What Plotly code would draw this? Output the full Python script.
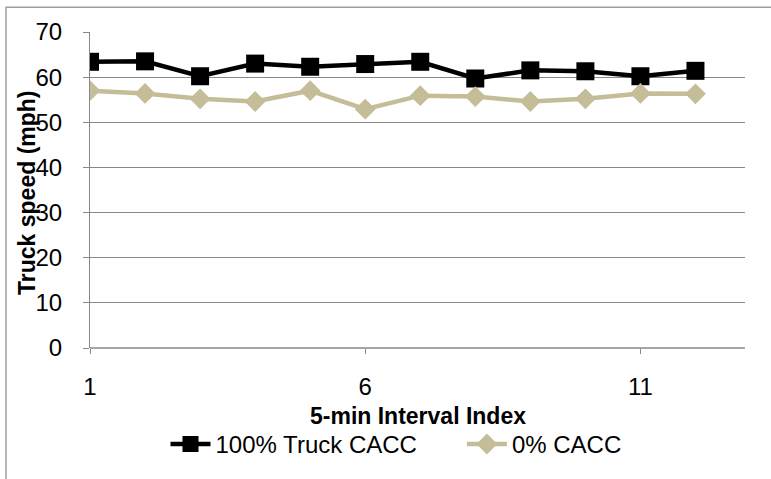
import plotly.graph_objects as go

interval = list(range(1, 13))
truck_cacc = [63.4, 63.5, 60.2, 63.0, 62.3, 62.9, 63.4, 59.7, 61.5, 61.3, 60.2, 61.4]
no_cacc = [57.0, 56.4, 55.2, 54.6, 57.0, 52.9, 55.9, 55.7, 54.6, 55.2, 56.4, 56.3]
x_ticks = [1, 6, 11]
y_ticks = [0, 10, 20, 30, 40, 50, 60, 70]

FONT = "Liberation Sans, Arial, sans-serif"

W, H = 771, 479
L, R, T, B = 90, 26, 32, 129
pw, ph = W - L - R, H - T - B

def px(x):
    return (x - L) / pw

def py(y):
    return (H - B - y) / ph

fig = go.Figure()
fig.add_trace(go.Scatter(
    x=interval, y=truck_cacc, mode="lines+markers", name="100% Truck CACC      ",
    line=dict(color="black", width=4.5),
    marker=dict(symbol="square", size=18, color="black"),
))
fig.add_trace(go.Scatter(
    x=interval, y=no_cacc, mode="lines+markers", name="0% CACC",
    line=dict(color="#C4BD97", width=4.5),
    marker=dict(symbol="diamond", size=16, color="#C4BD97"),
))

fig.update_layout(
    width=W, height=H,
    margin=dict(l=L, r=R, t=T, b=B),
    paper_bgcolor="white", plot_bgcolor="white",
    font=dict(family=FONT, color="black"),
    showlegend=True,
    legend=dict(orientation="h", x=px(396), xanchor="center", y=py(447), yanchor="middle",
                font=dict(size=24, family=FONT), itemwidth=40, tracegroupgap=0,
                bgcolor="rgba(0,0,0,0)"),
    xaxis=dict(range=[1, 12.9], tickvals=x_ticks, ticks="outside", ticklen=5,
               tickcolor="#888888", showline=False, showgrid=False, zeroline=False,
               tickfont=dict(size=24, family=FONT), ticklabelstandoff=12),
    yaxis=dict(range=[0, 70], tickvals=y_ticks, ticks="outside", ticklen=6,
               tickcolor="#888888", showline=True, linecolor="#888888", linewidth=1,
               showgrid=True, gridcolor="#888888", gridwidth=1, zeroline=False,
               tickfont=dict(size=24, family=FONT), ticklabelstandoff=16),
    annotations=[
        dict(text="<b>5-min Interval Index</b>", x=px(418), y=py(418), xref="paper", yref="paper",
             showarrow=False, font=dict(size=23, family=FONT), xanchor="center", yanchor="middle"),
        dict(text="<b>Truck speed (mph)</b>", x=px(27), y=py(194), xref="paper", yref="paper",
             showarrow=False, textangle=-90, font=dict(size=23, family=FONT),
             xanchor="center", yanchor="middle"),
    ],
    shapes=[
        dict(type="line", xref="paper", yref="paper", x0=0, x1=1, y0=0, y1=0,
             line=dict(color="#888888", width=1.5)),
        dict(type="rect", xref="paper", yref="paper", x0=px(6), x1=px(790), y0=py(500), y1=py(7),
             line=dict(color="#A0A0A0", width=1.5), fillcolor="rgba(0,0,0,0)", layer="below"),
    ],
)

fig.write_html("out.html")
